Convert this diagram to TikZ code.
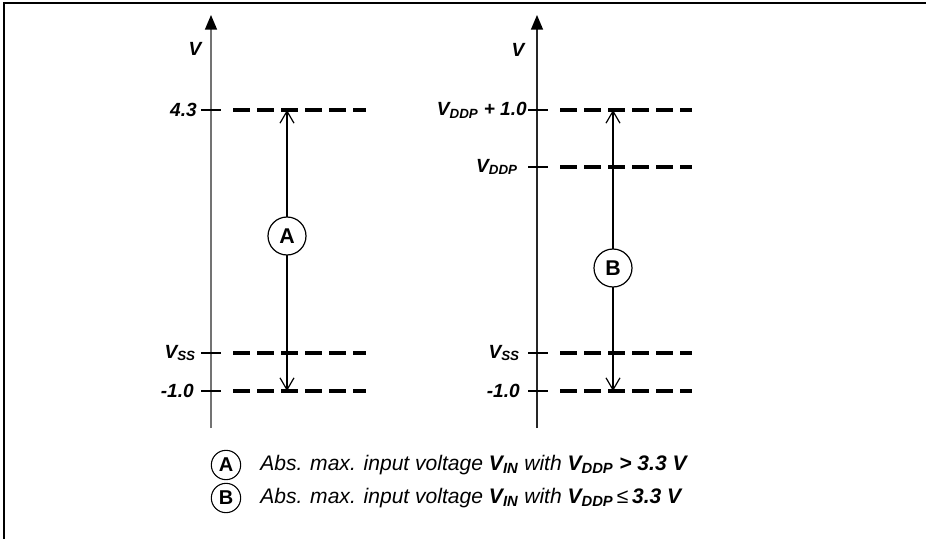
\documentclass[tikz,border=0pt]{standalone}
\usepackage{fontspec}
\setmainfont{Liberation Sans}
\usetikzlibrary{arrows.meta}
\newcommand\Vs[1]{V\textsubscript{#1}}
\begin{document}
\begin{tikzpicture}[x=0.75pt,y=-0.75pt,
  lbl/.style={font=\fontsize{14.3}{16}\selectfont\bfseries\itshape, inner sep=0pt},
  legtext/.style={font=\fontsize{15.8}{18}\selectfont\itshape, inner sep=0pt, anchor=west},
  axisline/.style={line width=1.1pt, -{Triangle[width=9pt,length=11pt,color=black]}},
  tickline/.style={line width=0.9pt},
  level/.style={line width=3pt, dash pattern=on 12.75pt off 5.25pt},
  span/.style={line width=0.9pt, {Straight Barb[length=9pt,width=10.5pt]}-{Straight Barb[length=9pt,width=10.5pt]}},
  circmark/.style={circle, draw, fill=white, line width=0.9pt, minimum size=28.5pt, inner sep=0pt, font=\fontsize{16}{18}\selectfont\bfseries},
  legmark/.style={circle, draw, fill=white, line width=0.8pt, minimum size=22pt, inner sep=0pt, font=\fontsize{15}{17}\selectfont\bfseries}]
\useasboundingbox (0,0) rectangle (926,539);
% frame
\draw[line width=1.2pt] (4,539) -- (4,3) -- (926,3);
% ---------- left diagram ----------
\coordinate (la0) at (211,428);
\coordinate (la1) at (211,15);
\draw[axisline, draw=gray!90!black] (la0) -- (la1);
\node[lbl] (lV) at (195,49) {V};
% levels
\foreach \n/\y in {top/110, ss/353, neg/391}{
  \coordinate (lt\n a) at (201,\y);
  \coordinate (lt\n b) at (221,\y);
  \coordinate (ld\n a) at (233,\y);
  \coordinate (ld\n b) at (366,\y);
  \draw[tickline] (lt\n a) -- (lt\n b);
  \draw[level] (ld\n a) -- (ld\n b);
}
\node[lbl, anchor=east] (l43) at (197,110) {4.3};
\node[lbl, anchor=east] (lss) at (196,353) {\Vs{SS}};
\node[lbl, anchor=east] (lneg) at (194,391) {-1.0};
\coordinate (larT) at (287,110);
\coordinate (larB) at (287,391);
\draw[span] (larT) -- (larB);
\node[circmark] (mA) at (287,236) {A};
% ---------- right diagram ----------
\coordinate (ra0) at (537,428);
\coordinate (ra1) at (537,15);
\draw[axisline, draw=black!85] (ra0) -- (ra1);
\node[lbl] (rV) at (518,50) {V};
\foreach \n/\y in {top/110, ddp/167, ss/353, neg/391}{
  \coordinate (rt\n a) at (528,\y);
  \coordinate (rt\n b) at (548,\y);
  \coordinate (rd\n a) at (560,\y);
  \coordinate (rd\n b) at (692,\y);
  \draw[tickline] (rt\n a) -- (rt\n b);
  \draw[level] (rd\n a) -- (rd\n b);
}
\node[lbl, anchor=east] (rtop) at (527,110) {\Vs{DDP} + 1.0};
\node[lbl, anchor=east] (rddp) at (518,167) {\Vs{DDP}};
\node[lbl, anchor=east] (rss) at (520,353) {\Vs{SS}};
\node[lbl, anchor=east] (rneg) at (520,391) {-1.0};
\coordinate (rarT) at (613,110);
\coordinate (rarB) at (613,391);
\draw[span] (rarT) -- (rarB);
\node[circmark] (mB) at (613,268) {B};
% ---------- legend ----------
\node[legmark] (kA) at (226,465) {A};
\node[legtext] (tA) at (260,465) {Abs. max. input voltage \textbf{\Vs{IN}} with \textbf{\Vs{DDP} > 3.3 V}};
\node[legmark] (kB) at (226,498) {B};
\node[legtext] (tB) at (260,498) {Abs. max. input voltage \textbf{\Vs{IN}} with \textbf{\Vs{DDP}}\,≤\,\textbf{3.3 V}};
\end{tikzpicture}
\end{document}
